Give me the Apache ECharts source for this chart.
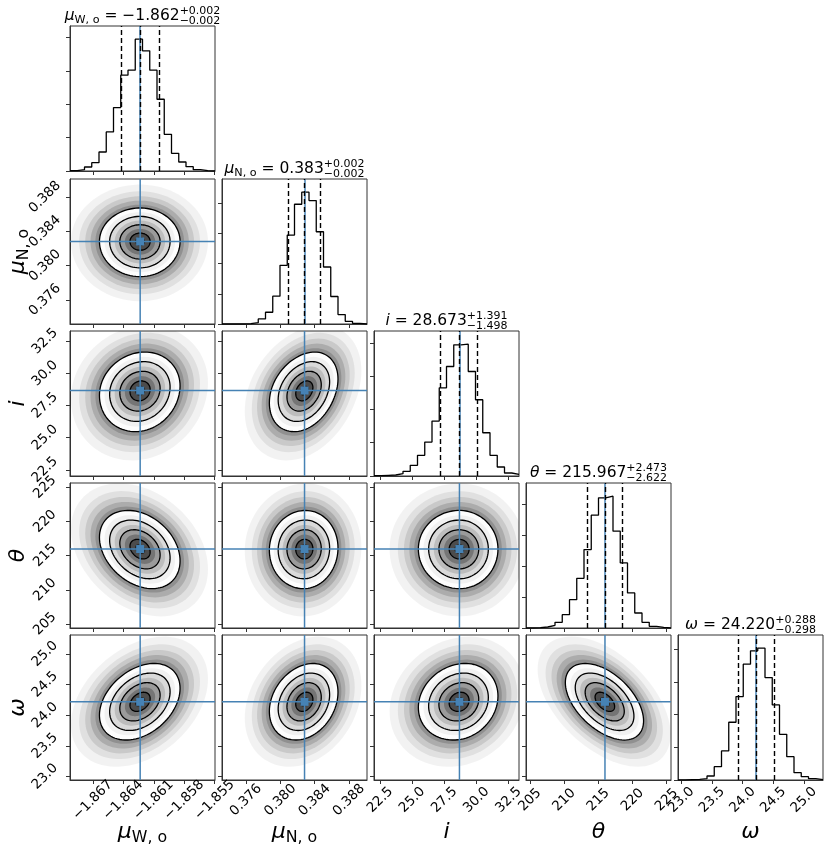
<!DOCTYPE html>
<html>
<head>
<meta charset="utf-8">
<script src="https://cdn.jsdelivr.net/npm/echarts@6/dist/echarts.min.js"></script>
<style>
html, body { margin: 0; padding: 0; background: #fff; }
#corner { width: 830px; height: 850px; }
</style>
</head>
<body>
<div id="corner"></div>
<script>
// parameters, in plot order: mu_W,o  mu_N,o  i  theta  omega
var symbols = ['μ', 'μ', 'i', 'θ', 'ω'];
var subscripts = ['W, o', 'N, o', '', '', ''];
var decimals = [3, 3, 1, 0, 1];

// axis ranges (sample min / max)
var axisMin = [-1.86925, 0.3732, 22.02, 204.41, 22.945];
var axisMax = [-1.85497, 0.3901, 33.31, 225.63, 25.31];

// tick values
var ticksMuW = [-1.867, -1.864, -1.861, -1.858, -1.855];
var ticksMuN = [0.376, 0.380, 0.384, 0.388];
var ticksI = [22.5, 25.0, 27.5, 30.0, 32.5];
var ticksTheta = [205, 210, 215, 220, 225];
var ticksOmega = [23.0, 23.5, 24.0, 24.5, 25.0];
var ticks = [ticksMuW, ticksMuN, ticksI, ticksTheta, ticksOmega];

// 16 / 50 / 84 % quantiles and truth values
var q16 = [-1.86420, 0.38095, 27.175, 213.345, 23.922];
var q50 = [-1.86234, 0.38282, 28.673, 215.967, 24.220];
var q84 = [-1.86050, 0.38469, 30.064, 218.440, 24.508];
var truths = [-1.86234, 0.38282, 28.673, 215.967, 24.220];

// 1D histograms, 20 bins over the axis range
var histMuW = [1, 4, 12, 25, 57, 117, 190, 287, 302, 395, 360, 302, 215, 110, 53, 27, 13, 4, 1, 0];
var histMuN = [0, 0, 0, 1, 4, 15, 35, 83, 175, 265, 357, 393, 368, 275, 170, 82, 28, 8, 2, 0];
var histI = [1, 2, 3, 7, 14, 32, 62, 102, 165, 265, 329, 394, 396, 314, 229, 130, 62, 27, 9, 5];
var histTheta = [0, 1, 3, 8, 17, 40, 85, 149, 235, 338, 390, 395, 290, 195, 105, 45, 17, 5, 2, 0];
var histOmega = [0, 1, 2, 4, 12, 40, 87, 173, 250, 347, 387, 395, 307, 225, 137, 70, 22, 10, 4, 1];
var hists = [histMuW, histMuN, histI, histTheta, histOmega];
var histTickStep = [100, 90, 100, 92.5, 98];

// half extent of the outermost (2 sigma) contour below / above the median
var contourLo = [0.00401, 0.0041, 3.2, 5.8, 0.623];
var contourHi = [0.00393, 0.0039, 3.0, 5.65, 0.626];

// tilt (correlation) of each 2D panel, rows 1..4 against columns
var corrRow1 = [0.0];
var corrRow2 = [0.12, 0.3];
var corrRow3 = [-0.3, 0.03, 0.0];
var corrRow4 = [0.35, 0.25, 0.15, -0.5];
var corr = [[], corrRow1, corrRow2, corrRow3, corrRow4];

var colLeft = [70, 222, 374, 526, 678];
var rowTop = [26, 179, 331, 483, 635];
var panelW = 145, panelH = 145;
var truthColor = '#4682b4';
var FONT = '"DejaVu Sans"';

// grey halo standing in for the scattered samples outside the contours
var haloLevels = [1.7, 1.5, 1.35, 1.22, 1.1];
var haloFills = ['rgba(0,0,0,0.05)', 'rgba(0,0,0,0.07)', 'rgba(0,0,0,0.10)', 'rgba(0,0,0,0.14)', 'rgba(0,0,0,0.16)'];
var densityLevels = [1.0, 0.875, 0.75, 0.625, 0.5, 0.375, 0.25, 0.125];
var densityFills = ['#fdfdfd', '#f1f1f1', '#dadada', '#bdbdbd', '#9b9b9b', '#757575', '#4c4c4c', '#222222'];
var contourLevels = [1.0, 0.75, 0.5, 0.25];

function fmt(v, d) {
    return v.toFixed(d).replace('-', '\u2212');
}

function makeRender(r, c) {
    var rho = corr[r][c];
    return function (params, api) {
        var mx = api.value(0), my = api.value(1);
        function poly(k) {
            var pts = [];
            for (var s = 0; s < 90; s++) {
                var t = s / 90 * 2 * Math.PI;
                var u = Math.cos(t);
                var v = rho * Math.cos(t) + Math.sqrt(1 - rho * rho) * Math.sin(t);
                var dx = u * k * (u < 0 ? contourLo[c] : contourHi[c]);
                var dy = v * k * (v < 0 ? contourLo[r] : contourHi[r]);
                pts.push(api.coord([mx + dx, my + dy]));
            }
            return pts;
        }
        var kids = [];
        haloLevels.forEach(function (k, i) {
            kids.push({ type: 'polygon', shape: { points: poly(k) }, style: { fill: haloFills[i], stroke: null } });
        });
        densityLevels.forEach(function (k, i) {
            kids.push({ type: 'polygon', shape: { points: poly(k) }, style: { fill: densityFills[i], stroke: null } });
        });
        contourLevels.forEach(function (k) {
            kids.push({ type: 'polygon', shape: { points: poly(k) }, style: { fill: null, stroke: '#000', lineWidth: 1.3 } });
        });
        var tx = api.value(2), ty = api.value(3);
        var v0 = api.coord([tx, axisMin[r]]), v1 = api.coord([tx, axisMax[r]]);
        var h0 = api.coord([axisMin[c], ty]), h1 = api.coord([axisMax[c], ty]);
        var lineStyle = { stroke: truthColor, lineWidth: 1.5 };
        kids.push({ type: 'line', shape: { x1: v0[0], y1: v0[1], x2: v1[0], y2: v1[1] }, style: lineStyle });
        kids.push({ type: 'line', shape: { x1: h0[0], y1: h0[1], x2: h1[0], y2: h1[1] }, style: lineStyle });
        var p = api.coord([tx, ty]);
        kids.push({ type: 'rect', shape: { x: p[0] - 4, y: p[1] - 4, width: 8, height: 8 }, style: { fill: truthColor } });
        return { type: 'group', children: kids };
    };
}

var grids = [], xAxes = [], yAxes = [], series = [];
var tickFontSize = 13.5;

for (var r = 0; r < 5; r++) {
    for (var c = 0; c <= r; c++) {
        var g = grids.length;
        grids.push({
            left: colLeft[c], top: rowTop[r], width: panelW, height: panelH,
            show: true, borderColor: '#333', borderWidth: 1,
            outerBoundsMode: 'none', containLabel: false
        });
        (function (c) {
            xAxes.push({
                gridIndex: g, type: 'value', min: axisMin[c], max: axisMax[c],
                splitLine: { show: false },
                axisLine: { show: true, lineStyle: { color: '#333', width: 1 } },
                axisTick: { show: true, length: 4, customValues: ticks[c], lineStyle: { color: '#333' } },
                axisLabel: {
                    show: r === 4, customValues: ticks[c], rotate: 45, align: 'center',
                    verticalAlign: 'middle', margin: 20,
                    formatter: function (v) { return fmt(v, decimals[c]); },
                    color: '#000', fontFamily: FONT, fontSize: tickFontSize
                }
            });
        })(c);
        if (r === c) {
            var h = hists[c];
            var hmax = Math.max.apply(null, h) * 1.1;
            var st = histTickStep[c];
            yAxes.push({
                gridIndex: g, type: 'value', min: 0, max: hmax,
                splitLine: { show: false },
                axisLine: { show: true, lineStyle: { color: '#333', width: 1 } },
                axisTick: { show: true, length: 4, customValues: [0, st, 2 * st, 3 * st, 4 * st], lineStyle: { color: '#333' } },
                axisLabel: { show: false }
            });
            var w = (axisMax[c] - axisMin[c]) / h.length;
            var stepData = h.map(function (v, k) { return [axisMin[c] + k * w, v]; });
            stepData.push([axisMax[c], h[h.length - 1]]);
            series.push({
                type: 'line', xAxisIndex: g, yAxisIndex: g, step: 'end',
                data: stepData, showSymbol: false, symbol: 'none',
                lineStyle: { color: '#000', width: 1.3 },
                markLine: {
                    silent: true, precision: 8, symbol: ['none', 'none'], label: { show: false },
                    lineStyle: { color: '#000', type: [5, 3], width: 1.4 },
                    data: [
                        { xAxis: truths[c], lineStyle: { color: truthColor, type: 'solid', width: 1.5 } },
                        { xAxis: q16[c] },
                        { xAxis: q50[c] },
                        { xAxis: q84[c] }
                    ]
                }
            });
        } else {
            (function (r) {
                yAxes.push({
                    gridIndex: g, type: 'value', min: axisMin[r], max: axisMax[r],
                    splitLine: { show: false },
                    axisLine: { show: true, lineStyle: { color: '#333', width: 1 } },
                    axisTick: { show: true, length: 4, customValues: ticks[r], lineStyle: { color: '#333' } },
                    axisLabel: {
                        show: c === 0, customValues: ticks[r], rotate: 45, align: 'center',
                        verticalAlign: 'middle', margin: 25,
                        formatter: function (v) { return fmt(v, decimals[r]); },
                        color: '#000', fontFamily: FONT, fontSize: tickFontSize
                    }
                });
            })(r);
            series.push({
                type: 'custom', xAxisIndex: g, yAxisIndex: g, clip: true,
                renderItem: makeRender(r, c),
                data: [[q50[c], q50[r], truths[c], truths[r]]]
            });
        }
    }
}

// text: titles and axis names built from pieces (sub / superscripts)
var mctx = document.createElement('canvas').getContext('2d');
function measure(t, size, italic) {
    mctx.font = (italic ? 'italic ' : '') + size + 'px ' + FONT;
    return mctx.measureText(t).width;
}
function buildText(pieces, cx, cy, rotation) {
    var x = 0, kids = [];
    pieces.forEach(function (p) {
        var wmax = 0;
        p.forEach(function (q) {
            var font = (q.italic ? 'italic ' : '') + q.size + 'px ' + FONT;
            kids.push({
                type: 'text', x: x, y: q.dy || 0,
                style: { text: q.t, fill: '#000', font: font, textAlign: 'left', textVerticalAlign: 'middle', align: 'left', verticalAlign: 'middle' }
            });
            wmax = Math.max(wmax, measure(q.t, q.size, q.italic));
        });
        x += wmax;
    });
    kids.forEach(function (k) { k.x -= x / 2; });
    return { type: 'group', x: cx, y: cy, rotation: rotation || 0, silent: true, children: kids };
}
function symbolPieces(i, size) {
    var ps = [[{ t: symbols[i], size: size, italic: true }]];
    if (subscripts[i]) ps.push([{ t: subscripts[i], size: size * 0.72, dy: size * 0.28 }]);
    return ps;
}

var graphics = [];
for (var k = 0; k < 5; k++) {
    var tp = symbolPieces(k, 15.5);
    tp.push([{ t: ' = ' + fmt(q50[k], 3), size: 15.5 }]);
    tp.push([
        { t: '+' + (q84[k] - q50[k]).toFixed(3), size: 11, dy: -5 },
        { t: '\u2212' + (q50[k] - q16[k]).toFixed(3), size: 11, dy: 5 }
    ]);
    graphics.push(buildText(tp, colLeft[k] + panelW / 2, rowTop[k] - 10, 0));
    graphics.push(buildText(symbolPieces(k, 22), colLeft[k] + panelW / 2, 832, 0));
    if (k > 0) graphics.push(buildText(symbolPieces(k, 22), 18, rowTop[k] + panelH / 2, Math.PI / 2));
}

var chart = echarts.init(document.getElementById('corner'));
chart.setOption({
    animation: false,
    backgroundColor: '#fff',
    grid: grids,
    xAxis: xAxes,
    yAxis: yAxes,
    series: series,
    graphic: graphics
});
</script>
</body>
</html>
